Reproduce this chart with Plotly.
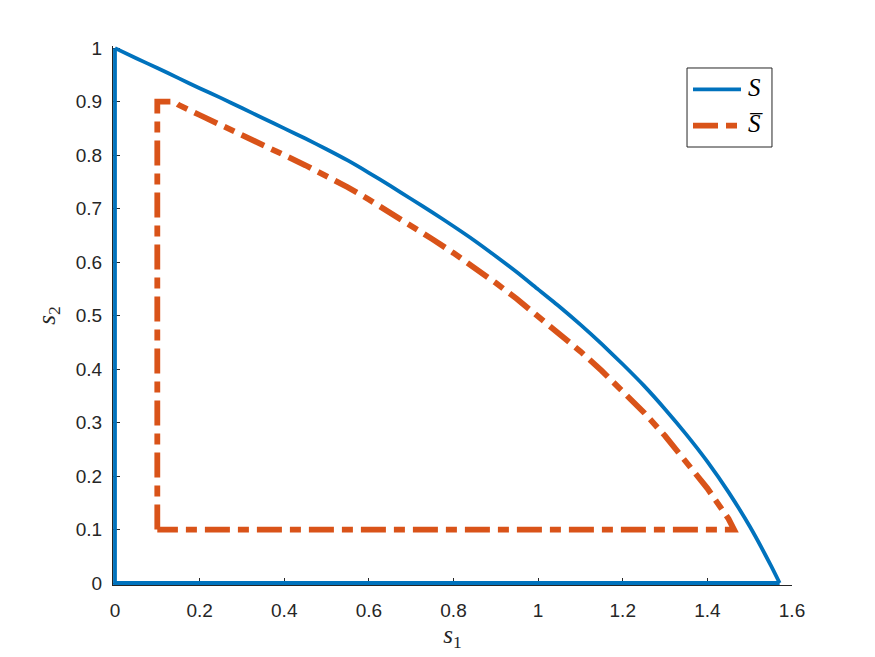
import plotly.graph_objects as go

# ---- data ----
# Set S: outer curve from (0, 1) down to (pi/2, 0)
S_curve_s1 = [0.0, 0.05, 0.10, 0.15, 0.20, 0.25, 0.30, 0.35, 0.40, 0.45, 0.50, 0.55, 0.60, 0.65,
              0.70, 0.75, 0.80, 0.85, 0.90, 0.95, 1.00, 1.05, 1.10, 1.15, 1.20, 1.25, 1.30, 1.35,
              1.40, 1.45, 1.50, 1.55, 1.5708]
S_curve_s2 = [1.0, 0.981, 0.963, 0.944, 0.925, 0.907, 0.888, 0.869, 0.850, 0.831, 0.811, 0.790,
              0.767, 0.743, 0.718, 0.693, 0.667, 0.640, 0.611, 0.581, 0.549, 0.517, 0.483, 0.447,
              0.409, 0.369, 0.325, 0.278, 0.227, 0.170, 0.106, 0.033, 0.0]
# Set S: straight edges along the axes
S_edge_s1 = [1.5708, 0.0, 0.0]
S_edge_s2 = [0.0, 0.0, 1.0]

# Set S-bar: inner closed boundary
Sbar_s1 = [0.1, 0.1, 0.14, 0.15, 0.20, 0.25, 0.30, 0.35, 0.40, 0.45, 0.50, 0.55, 0.60, 0.65, 0.70,
           0.75, 0.80, 0.85, 0.90, 0.95, 1.00, 1.05, 1.10, 1.15, 1.20, 1.25, 1.30, 1.35, 1.40,
           1.45, 1.463, 0.1]
Sbar_s2 = [0.1, 0.9, 0.9, 0.894, 0.875, 0.857, 0.838, 0.819, 0.800, 0.781, 0.761, 0.740, 0.717,
           0.693, 0.668, 0.643, 0.617, 0.590, 0.561, 0.531, 0.499, 0.467, 0.433, 0.397, 0.359,
           0.319, 0.275, 0.228, 0.177, 0.120, 0.1, 0.1]

x_ticks = [0, 0.2, 0.4, 0.6, 0.8, 1.0, 1.2, 1.4, 1.6]
x_ticktext = ["0", "0.2", "0.4", "0.6", "0.8", "1", "1.2", "1.4", "1.6"]
y_ticks = [0, 0.1, 0.2, 0.3, 0.4, 0.5, 0.6, 0.7, 0.8, 0.9, 1.0]
y_ticktext = ["0", "0.1", "0.2", "0.3", "0.4", "0.5", "0.6", "0.7", "0.8", "0.9", "1"]

legend_names = ["<i>S</i>", "<i>S\u0305</i>"]

BLUE = "#0072BD"
RED = "#D95319"
AX = "#262626"
SERIF = "Liberation Serif"
SANS = "Liberation Sans"
RED_DASH = "25px,8px,11px,8px"

fig = go.Figure()
fig.add_trace(go.Scatter(x=S_edge_s1, y=S_edge_s2, mode="lines", name=legend_names[0],
                         line=dict(color=BLUE, width=3.8), showlegend=False, legendgroup="S"))
fig.add_trace(go.Scatter(x=S_curve_s1, y=S_curve_s2, mode="lines", name=legend_names[0],
                         line=dict(color=BLUE, width=3.8, shape="spline", smoothing=0.5),
                         showlegend=False, legendgroup="S"))
fig.add_trace(go.Scatter(x=Sbar_s1, y=Sbar_s2, mode="lines", name=legend_names[1],
                         line=dict(color=RED, width=5.8, dash=RED_DASH),
                         showlegend=False))

axis_common = dict(showgrid=False, zeroline=False, showline=True, linecolor=AX, linewidth=1,
                   ticks="inside", ticklen=7, tickcolor=AX, tickwidth=1,
                   tickfont=dict(family=SANS, size=19, color=AX), layer="below traces",
                   mirror=False)

fig.update_xaxes(range=[-0.0047, 1.6], tickvals=x_ticks, ticktext=x_ticktext,
                 ticklabelstandoff=8,
                 title=dict(text="<i>s</i><sub>1</sub>", font=dict(family=SERIF, size=25, color=AX),
                            standoff=4),
                 **axis_common)
fig.update_yaxes(range=[-0.0037, 1.004], tickvals=y_ticks, ticktext=y_ticktext,
                 ticklabelstandoff=6,
                 title=dict(text="<i>s</i><sub>2</sub>", font=dict(family=SERIF, size=25, color=AX),
                            standoff=13),
                 **axis_common)

# MATLAB-style legend box drawn with shapes and text
lx0, lx1, ly0, ly1 = 0.8454, 0.9705, 0.8126, 0.9592
fig.add_shape(type="rect", xref="paper", yref="paper", x0=lx0, x1=lx1, y0=ly0, y1=ly1,
              line=dict(color=AX, width=1), fillcolor="white", layer="above")
for i, (col, w, dash, yy) in enumerate([(BLUE, 3.8, "solid", 0.9197), (RED, 5.8, RED_DASH, 0.8521)]):
    fig.add_shape(type="line", xref="paper", yref="paper", x0=0.8542, x1=0.9249, y0=yy, y1=yy,
                  line=dict(color=col, width=w, dash=dash), layer="above")
    fig.add_annotation(xref="paper", yref="paper", x=0.9320, y=yy + 0.004, xanchor="left", yanchor="middle",
                       text=legend_names[i], showarrow=False,
                       font=dict(family=SERIF, size=25, color="black"))

fig.update_layout(width=875, height=657, plot_bgcolor="white", paper_bgcolor="white",
                  margin=dict(l=113, r=83, t=46, b=72, autoexpand=False))

fig.write_html("out.html")
